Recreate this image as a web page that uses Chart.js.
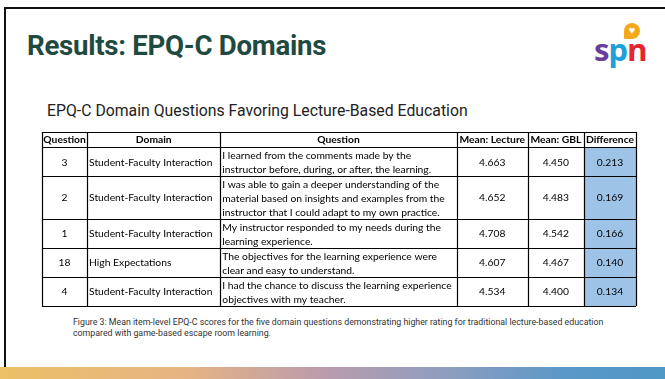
<!DOCTYPE html>
<html>
<head>
<meta charset="utf-8">
<script src="https://cdn.jsdelivr.net/npm/chart.js@4.4.1/dist/chart.umd.min.js"></script>
<style>
  body { margin: 0; background: #fff; }
  #slide { position: relative; width: 665px; height: 379px; overflow: hidden; background: #fff; font-family: Roboto, sans-serif; }
  .rule-top { position: absolute; left: 4px; right: 0; top: 7px; height: 2px; background: #111; }
  .rule-left { position: absolute; left: 4px; top: 7px; bottom: 0; width: 2px; background: #111; }
  #title { position: absolute; left: 27px; top: 29px; font-size: 28.5px; font-weight: 700; color: #1f4a3f; white-space: nowrap; transform-origin: left top; transform: scaleX(0.97); letter-spacing: -0.3px; }
  #subtitle { position: absolute; left: 47px; top: 101px; font-size: 15.8px; color: #222; white-space: nowrap; }
  #caption { position: absolute; left: 73px; top: 317px; font-size: 8.8px; line-height: 11px; color: #333; white-space: nowrap; }
  #band { position: absolute; left: 0; right: 0; top: 367px; height: 12px;
    background: linear-gradient(90deg, #ebc066 0%, #e6b484 28%, #bc9cab 48%, #8c9dc0 68%, #5a98c8 85%, #4f98c6 100%); }
  #logo { position: absolute; left: 594px; top: 28px; font-family: "Noto Sans", sans-serif; font-weight: 700; font-size: 31px; letter-spacing: -1px; }
  #bubble { position: absolute; left: 624px; top: 23px; width: 16px; height: 16px; background: #f5a81c; border-radius: 50% 50% 50% 10%; color: #fff; font-size: 11px; line-height: 16px; text-align: center; }
  #chartBox { position: absolute; left: 38px; top: 128px; }
</style>
</head>
<body>
<div id="slide">
  <div class="rule-top"></div>
  <div class="rule-left"></div>
  <div id="title">Results: EPQ-C Domains</div>
  <div id="bubble">&#9829;</div>
  <div id="logo"><span style="color:#6a3c9c">s</span><span style="color:#1f9fdb">p</span><span style="color:#e3262d">n</span></div>
  <div id="subtitle">EPQ-C Domain Questions Favoring Lecture-Based Education</div>
  <div id="chartBox"><canvas id="tableChart" width="602" height="182"></canvas></div>
  <div id="caption">Figure 3: Mean item-level EPQ-C scores for the five domain questions demonstrating higher rating for traditional lecture-based education<br>compared with game-based escape room learning.</div>
  <div id="band"></div>
</div>

<script>
  // table data
  const headers = ['Question', 'Domain', 'Question', 'Mean: Lecture', 'Mean: GBL', 'Difference'];
  const questionIds = ['3', '2', '1', '18', '4'];
  const domains = [
    'Student-Faculty Interaction',
    'Student-Faculty Interaction',
    'Student-Faculty Interaction',
    'High Expectations',
    'Student-Faculty Interaction'
  ];
  const questions = [
    ['I learned from the comments made by the', 'instructor before, during, or after, the learning.'],
    ['I was able to gain a deeper understanding of the', 'material based on insights and examples from the', 'instructor that I could adapt to my own practice.'],
    ['My instructor responded to my needs during the', 'learning experience.'],
    ['The objectives for the learning experience were', 'clear and easy to understand.'],
    ['I had the chance to discuss the learning experience', 'objectives with my teacher.']
  ];
  const meanLecture = [4.663, 4.652, 4.708, 4.607, 4.534];
  const meanGBL = [4.450, 4.483, 4.542, 4.467, 4.400];
  const difference = [0.213, 0.169, 0.166, 0.140, 0.134];

  // layout (table units = px offsets inside the table)
  const colEdges = [0, 45, 178, 414, 485, 541, 593];
  const LINE_H = 13.6;
  const ROW_PAD = 1.6;
  const FONT = '"Lato", sans-serif';
  const BODY_SIZE = 10.3;

  const rowLines = [1].concat(questions.map(q => q.length));
  const rowEdges = [0];
  rowLines.forEach(n => rowEdges.push(rowEdges[rowEdges.length - 1] + n * LINE_H + ROW_PAD));
  const tableH = rowEdges[rowEdges.length - 1];

  const tablePlugin = {
    id: 'tablePlugin',
    afterDraw(chart) {
      const ctx = chart.ctx;
      const xs = chart.scales.x, ys = chart.scales.y;
      const X = v => xs.getPixelForValue(v);
      const Y = v => ys.getPixelForValue(v);
      ctx.save();

      // highlighted Difference cells
      ctx.fillStyle = '#9dc3e6';
      ctx.fillRect(X(colEdges[5]), Y(rowEdges[1]), X(colEdges[6]) - X(colEdges[5]), Y(tableH) - Y(rowEdges[1]));

      // grid
      ctx.strokeStyle = '#000';
      ctx.lineWidth = 1.2;
      ctx.beginPath();
      rowEdges.forEach(r => {
        const y = Math.round(Y(r)) + 0.5;
        ctx.moveTo(X(0), y); ctx.lineTo(X(colEdges[6]), y);
      });
      colEdges.forEach(c => {
        const x = Math.round(X(c)) + 0.5;
        ctx.moveTo(x, Y(0)); ctx.lineTo(x, Y(tableH));
      });
      ctx.stroke();

      // header
      ctx.fillStyle = '#000';
      ctx.textBaseline = 'middle';
      ctx.textAlign = 'center';
      ctx.font = 'bold ' + BODY_SIZE + 'px ' + FONT;
      headers.forEach((h, i) => {
        ctx.fillText(h, (X(colEdges[i]) + X(colEdges[i + 1])) / 2, (Y(rowEdges[0]) + Y(rowEdges[1])) / 2 + 0.5);
      });

      // body rows
      ctx.font = BODY_SIZE + 'px ' + FONT;
      questionIds.forEach((q, r) => {
        const top = Y(rowEdges[r + 1]);
        const mid = (top + Y(rowEdges[r + 2])) / 2 + 0.5;
        const cx = i => (X(colEdges[i]) + X(colEdges[i + 1])) / 2;
        ctx.textAlign = 'center';
        ctx.fillText(q, cx(0), mid);
        ctx.fillText(meanLecture[r].toFixed(3), cx(3), mid);
        ctx.fillText(meanGBL[r].toFixed(3), cx(4), mid);
        ctx.fillText(difference[r].toFixed(3), cx(5), mid);
        ctx.textAlign = 'left';
        ctx.fillText(domains[r], X(colEdges[1]) + 2, mid);
        questions[r].forEach((line, k) => {
          ctx.fillText(line, X(colEdges[2]) + 2, top + 2 + LINE_H / 2 + k * LINE_H);
        });
      });
      ctx.restore();
    }
  };

  new Chart(document.getElementById('tableChart'), {
    type: 'scatter',
    data: { datasets: [{ label: 'Difference', data: [] }] },
    options: {
      responsive: false,
      animation: false,
      layout: { padding: 4 },
      plugins: { legend: { display: false }, tooltip: { enabled: false } },
      scales: {
        x: { type: 'linear', min: 0, max: colEdges[colEdges.length - 1], display: false },
        y: { type: 'linear', min: 0, max: tableH, reverse: true, display: false }
      }
    },
    plugins: [tablePlugin]
  });
</script>
</body>
</html>
